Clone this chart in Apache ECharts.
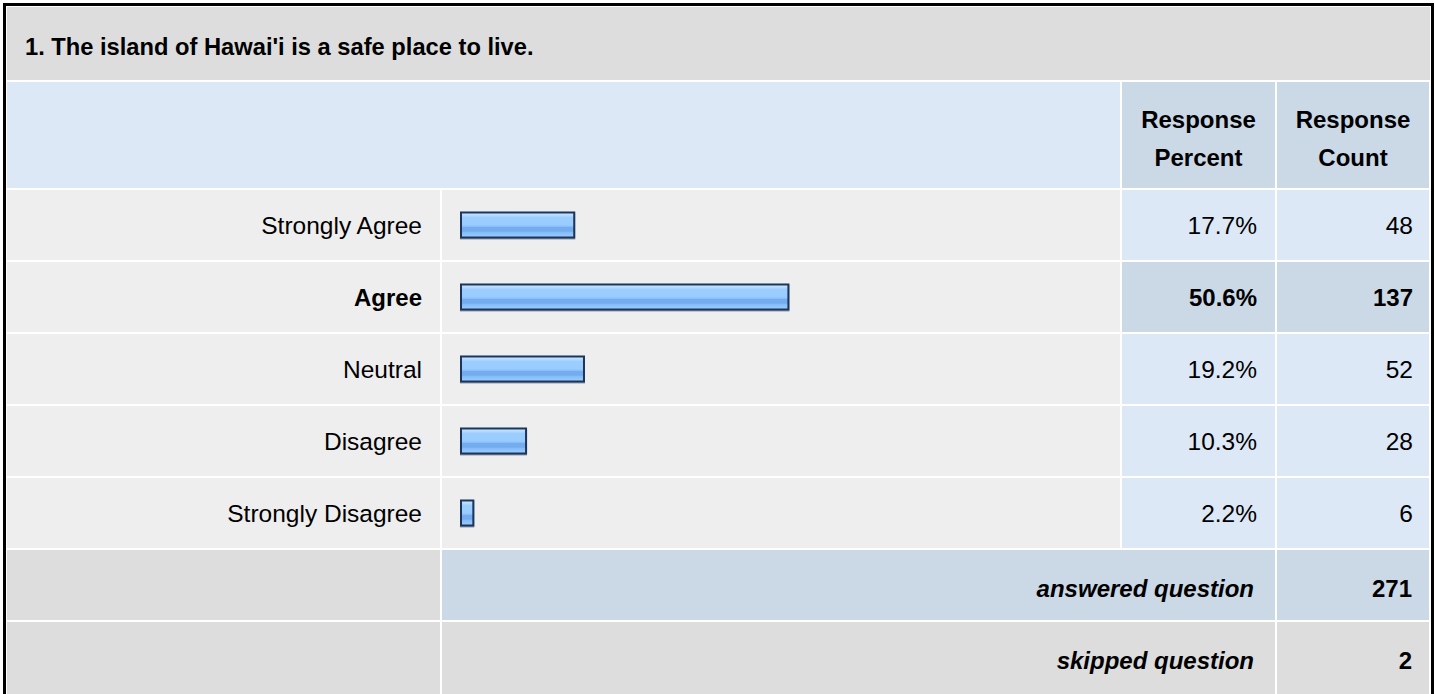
<!DOCTYPE html>
<html>
<head>
<meta charset="utf-8">
<title>Survey question 1</title>
<script src="https://cdn.jsdelivr.net/npm/echarts@6.0.0/dist/echarts.min.js"></script>
<style>
html, body { margin: 0; padding: 0; background: #fff; }
#chart { width: 1435px; height: 694px; }
</style>
</head>
<body>
<div id="chart"></div>
<script>
const questionTitle = "1. The island of Hawai'i is a safe place to live.";
const categories = ['Strongly Agree', 'Agree', 'Neutral', 'Disagree', 'Strongly Disagree'];
const percents = [17.7, 50.6, 19.2, 10.3, 2.2];
const counts = [48, 137, 52, 28, 6];
const headerLabels = ['Response\nPercent', 'Response\nCount'];
const footerLabels = ['answered question', 'skipped question'];
const footerCounts = [271, 2];

const FONT = '"Liberation Sans", Arial, Helvetica, sans-serif';
const topIndex = counts.indexOf(Math.max(...counts));
const percentLabels = percents.map(p => p.toFixed(1) + '%');
const countLabels = counts.map(c => String(c));

// table geometry
const col = [7, 440, 442, 1120, 1122, 1275, 1277, 1429];
const rowTop = i => 190 + 72 * i;
const rowH = 70;

const PALE = '#dde8f6', DARK = '#cbd8e6', GREY = '#eeeeee', TITLE = '#dddddd';

function rect(x, y, w, h, fill) {
    return { type: 'rect', z: -10, silent: true, shape: { x: x, y: y, width: w, height: h }, style: { fill: fill } };
}
function text(str, x, y, align, opts) {
    return {
        type: 'text', z: 10, silent: true,
        style: Object.assign({
            text: str, x: x, y: y, align: align, verticalAlign: 'middle',
            fill: '#000', fontSize: 24, fontFamily: FONT
        }, opts || {})
    };
}

let elements = [];
// outer frame
elements.push({ type: 'rect', z: -20, silent: true, shape: { x: 4.5, y: 4.5, width: 1428, height: 740 },
    style: { fill: '#fff', stroke: '#000', lineWidth: 3 } });
// title row
elements.push(rect(7, 7, 1423, 73, TITLE));
elements.push(text(questionTitle, 25, 47, 'left', { fontWeight: 'bold', fontSize: 23.7 }));
// header row
elements.push(rect(col[0], 82, col[3] - col[0], 106, PALE));
elements.push(rect(col[4], 82, col[5] - col[4], 106, DARK));
elements.push(rect(col[6], 82, col[7] - col[6], 106, DARK));
elements.push(text(headerLabels[0], (col[4] + col[5]) / 2, 138, 'center', { fontWeight: 'bold', lineHeight: 38 }));
elements.push(text(headerLabels[1], (col[6] + col[7]) / 2, 138, 'center', { fontWeight: 'bold', lineHeight: 38 }));
// answer rows
categories.forEach((c, i) => {
    const y = rowTop(i);
    const side = i === topIndex ? DARK : PALE;
    elements.push(rect(col[0], y, col[1] - col[0], rowH, GREY));
    elements.push(rect(col[2], y, col[3] - col[2], rowH, GREY));
    elements.push(rect(col[4], y, col[5] - col[4], rowH, side));
    elements.push(rect(col[6], y, col[7] - col[6], rowH, side));
});
// footer rows
footerLabels.forEach((lab, k) => {
    const y = rowTop(categories.length + k);
    const mid = k === 0 ? DARK : TITLE;
    elements.push(rect(col[0], y, col[1] - col[0], k === 1 ? 80 : rowH, TITLE));
    elements.push(rect(col[2], y, col[5] - col[2], k === 1 ? 80 : rowH, mid));
    elements.push(rect(col[6], y, col[7] - col[6], k === 1 ? 80 : rowH, mid));
    elements.push(text(lab, 1254, y + 38, 'right', { fontWeight: 'bold', fontStyle: 'italic' }));
    elements.push(text(String(footerCounts[k]), 1412, y + 38, 'right', { fontWeight: 'bold' }));
});

function labelAxis(data, position, offset, margin, align) {
    return {
        type: 'category',
        data: data,
        inverse: true,
        position: position,
        offset: offset,
        axisLine: { show: false },
        axisTick: { show: false },
        splitLine: { show: false },
        axisLabel: {
            interval: 0,
            margin: margin,
            align: align,
            color: '#000',
            fontSize: 24.5,
            fontFamily: FONT,
            formatter: (v, i) => i === topIndex ? '{b|' + v + '}' : v,
            rich: { b: { fontWeight: 'bold', fontSize: 24, fontFamily: FONT, color: '#000' } }
        }
    };
}

const chart = echarts.init(document.getElementById('chart'), null, { renderer: 'svg' });
chart.setOption({
    animation: false,
    backgroundColor: '#fff',
    graphic: { elements: elements },
    grid: { left: 460, top: 189, width: 651, height: 360, containLabel: false, outerBoundsMode: 'none' },
    xAxis: { type: 'value', min: 0, max: 100, show: false },
    yAxis: [
        labelAxis(categories, 'left', 0, 38, 'right'),
        labelAxis(percentLabels, 'right', 146, 0, 'right'),
        labelAxis(countLabels, 'right', 302, 0, 'right')
    ],
    series: [{
        type: 'bar',
        yAxisIndex: 0,
        data: percents,
        barWidth: 27,
        itemStyle: {
            color: new echarts.graphic.LinearGradient(0, 0, 0, 1, [
                { offset: 0, color: '#d6ecff' },
                { offset: 0.1, color: '#b8dcff' },
                { offset: 0.2, color: '#9ccdff' },
                { offset: 0.5, color: '#99ccff' },
                { offset: 0.56, color: '#88bff8' },
                { offset: 0.6, color: '#74acf0' },
                { offset: 0.75, color: '#74acf0' },
                { offset: 0.8, color: '#86bdf8' },
                { offset: 1, color: '#9dcfff' }
            ]),
            borderColor: '#1c355b',
            borderWidth: 2,
            shadowColor: 'rgba(30,50,90,0.45)',
            shadowOffsetY: 1,
            shadowBlur: 0
        }
    }]
});
</script>
</body>
</html>
